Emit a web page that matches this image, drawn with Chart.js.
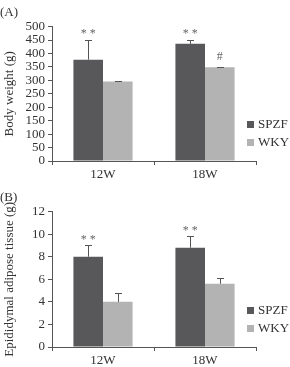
<!DOCTYPE html>
<html>
<head>
<meta charset="utf-8">
<script src="https://cdn.jsdelivr.net/npm/chart.js@4"></script>
<style>
  body { margin: 0; background: #fff; }
  .panel { position: relative; width: 290px; }
</style>
</head>
<body>
<div class="panel" style="height:185px"><canvas id="weight"></canvas></div>
<div class="panel" style="height:182px"><canvas id="adipose"></canvas></div>
<script>
const categories = ["12W", "18W"];
const groups = ["SPZF", "WKY"];

// body weight (g)
const weightSPZF = [377, 436];
const weightSPZFErr = [74, 14];
const weightWKY = [296, 349];
const weightWKYErr = [2, 2];
const weightMarksSPZF = ["* *", "* *"];
const weightMarksWKY = ["", "#"];
const weightTicks = [0, 50, 100, 150, 200, 250, 300, 350, 400, 450, 500];

// epididymal adipose tissue (g)
const adiposeSPZF = [8.0, 8.8];
const adiposeSPZFErr = [1.0, 1.0];
const adiposeWKY = [4.0, 5.6];
const adiposeWKYErr = [0.8, 0.5];
const adiposeMarksSPZF = ["* *", "* *"];
const adiposeMarksWKY = ["", ""];
const adiposeTicks = [0, 2, 4, 6, 8, 10, 12];

const colors = ["#58585a", "#b3b3b3"];
const axisColor = "#555";
const serif = "'Liberation Serif', 'DejaVu Serif', serif";

// draws one-sided error bars, the significance marks and the legend
const extras = {
  id: "extras",
  afterDatasetsDraw(chart) {
    const ctx = chart.ctx;
    const y = chart.scales.y;
    ctx.save();
    chart.data.datasets.forEach((ds, di) => {
      const meta = chart.getDatasetMeta(di);
      meta.data.forEach((bar, i) => {
        const top = y.getPixelForValue(ds.data[i] + ds.err[i]);
        ctx.strokeStyle = axisColor;
        ctx.lineWidth = 1;
        ctx.beginPath();
        ctx.moveTo(Math.round(bar.x) + 0.5, bar.y);
        ctx.lineTo(Math.round(bar.x) + 0.5, Math.round(top) + 0.5);
        ctx.moveTo(Math.round(bar.x) - 3, Math.round(top) + 0.5);
        ctx.lineTo(Math.round(bar.x) + 4, Math.round(top) + 0.5);
        ctx.stroke();
        if (ds.marks[i]) {
          ctx.fillStyle = "#666";
          ctx.font = "12px " + serif;
          ctx.textAlign = "center";
          ctx.textBaseline = "middle";
          ctx.fillText(ds.marks[i], bar.x, top - (ds.marks[i] === "#" ? 10 : 6));
        }
      });
    });
    const area = chart.chartArea;
    chart.data.datasets.forEach((ds, di) => {
      const cy = area.bottom - 36 + di * 18;
      ctx.fillStyle = ds.backgroundColor;
      ctx.fillRect(247, cy - 4, 7, 7);
      ctx.fillStyle = "#333";
      ctx.font = "13px " + serif;
      ctx.textAlign = "left";
      ctx.textBaseline = "middle";
      ctx.fillText(ds.label, 258, cy);
    });
    ctx.restore();
  }
};

function makeChart(id, panel, title, seriesA, errA, marksA, seriesB, errB, marksB, ticks, bottomPad) {
  const step = ticks[1] - ticks[0];
  return new Chart(document.getElementById(id), {
    type: "bar",
    data: {
      labels: categories,
      datasets: [
        { label: groups[0], data: seriesA, err: errA, marks: marksA, backgroundColor: colors[0] },
        { label: groups[1], data: seriesB, err: errB, marks: marksB, backgroundColor: colors[1] },
      ],
    },
    options: {
      responsive: true,
      maintainAspectRatio: false,
      animation: false,
      layout: { padding: { left: 0, right: 34, top: 0, bottom: 0 } },
      datasets: { bar: { categoryPercentage: 0.58, barPercentage: 1.0 } },
      scales: {
        x: {
          grid: { offset: true, drawOnChartArea: false, drawTicks: true, tickLength: 4, color: axisColor },
          border: { color: axisColor },
          ticks: { color: "#333", font: { family: serif, size: 13 }, padding: 2 },
          afterFit: (s) => { s.height = bottomPad; },
        },
        y: {
          min: ticks[0],
          max: ticks[ticks.length - 1],
          grid: { drawOnChartArea: false, drawTicks: true, tickLength: 4, color: axisColor },
          border: { color: axisColor },
          ticks: { stepSize: step, autoSkip: false, color: "#333", font: { family: serif, size: 13, lineHeight: 1 }, padding: 3 },
          title: { display: true, text: title, color: "#333", font: { family: serif, size: 13 }, padding: { top: 2, bottom: 0 } },
          afterFit: (s) => { s.width = 52; },
        },
      },
      plugins: {
        legend: { display: false },
        tooltip: { enabled: false },
        title: {
          display: true,
          text: panel,
          align: "start",
          color: "#333",
          font: { family: serif, size: 13, weight: "normal" },
          padding: { top: 5, bottom: 6 },
        },
      },
    },
    plugins: [extras],
  });
}

makeChart("weight", "(A)", "Body weight (g)",
  weightSPZF, weightSPZFErr, weightMarksSPZF, weightWKY, weightWKYErr, weightMarksWKY, weightTicks, 24);
makeChart("adipose", "(B)", "Epididymal adipose tissue (g)",
  adiposeSPZF, adiposeSPZFErr, adiposeMarksSPZF, adiposeWKY, adiposeWKYErr, adiposeMarksWKY, adiposeTicks, 20);
</script>
</body>
</html>
